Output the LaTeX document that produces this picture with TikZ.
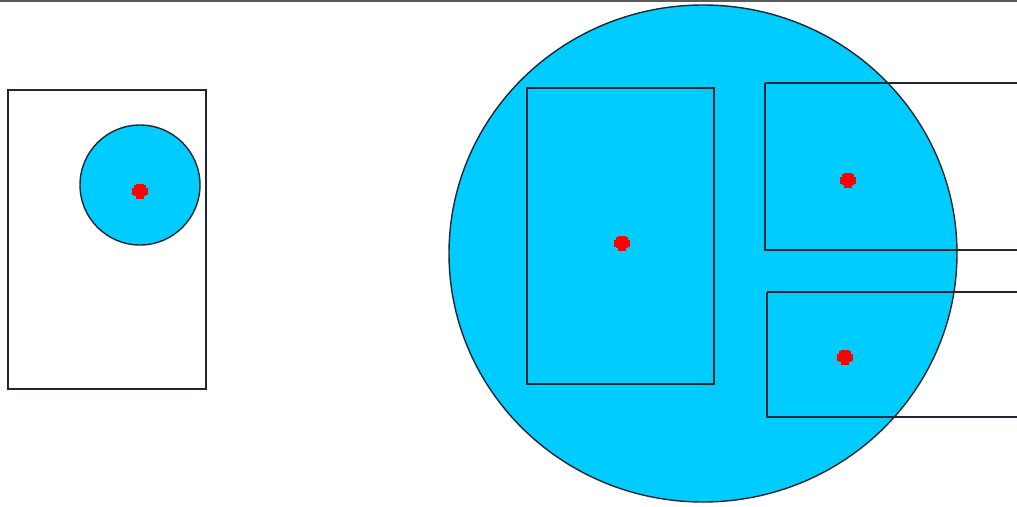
\documentclass[tikz,border=0pt]{standalone}
\definecolor{cyanfill}{RGB}{0,204,255}
\definecolor{edge}{RGB}{30,40,50}
\definecolor{topline}{RGB}{90,90,90}
\tikzset{
  outline/.style={draw=edge, line width=1.4pt},
  disc/.style={outline, fill=cyanfill},
}
\newcommand{\redmark}[2]{%
  \fill[red] (#1-8,#2-3.5) rectangle (#1+8,#2+3.5);
  \fill[red] (#1-4,#2-7) rectangle (#1+4,#2+8);
  \fill[red] (#1-6,#2-6) rectangle (#1+6,#2+5);
}
\begin{document}
\begin{tikzpicture}[x=1pt,y=-1pt]
\useasboundingbox (0,0) rectangle (1017,506);
\clip (0,0) rectangle (1017,506);
\fill[white] (0,0) rectangle (1017,506);
% left
\draw[outline] (8,90) rectangle (206,389);
\draw[disc] (140,185) circle (60);
\redmark{140}{191}
% right
\draw[disc] (703,253.5) ellipse [x radius=254, y radius=248.5];
\draw[outline] (527,88) rectangle (714,384);
\draw[outline] (765,83) -- (1030,83) (765,83) -- (765,250) -- (1030,250);
\draw[outline] (767,292) -- (1030,292) (767,292) -- (767,417) -- (1030,417);
\redmark{622}{243}
\redmark{848}{180}
\redmark{845}{357}
% top border
\draw[topline, line width=2pt] (0,1) -- (1017,1);
\end{tikzpicture}
\end{document}
